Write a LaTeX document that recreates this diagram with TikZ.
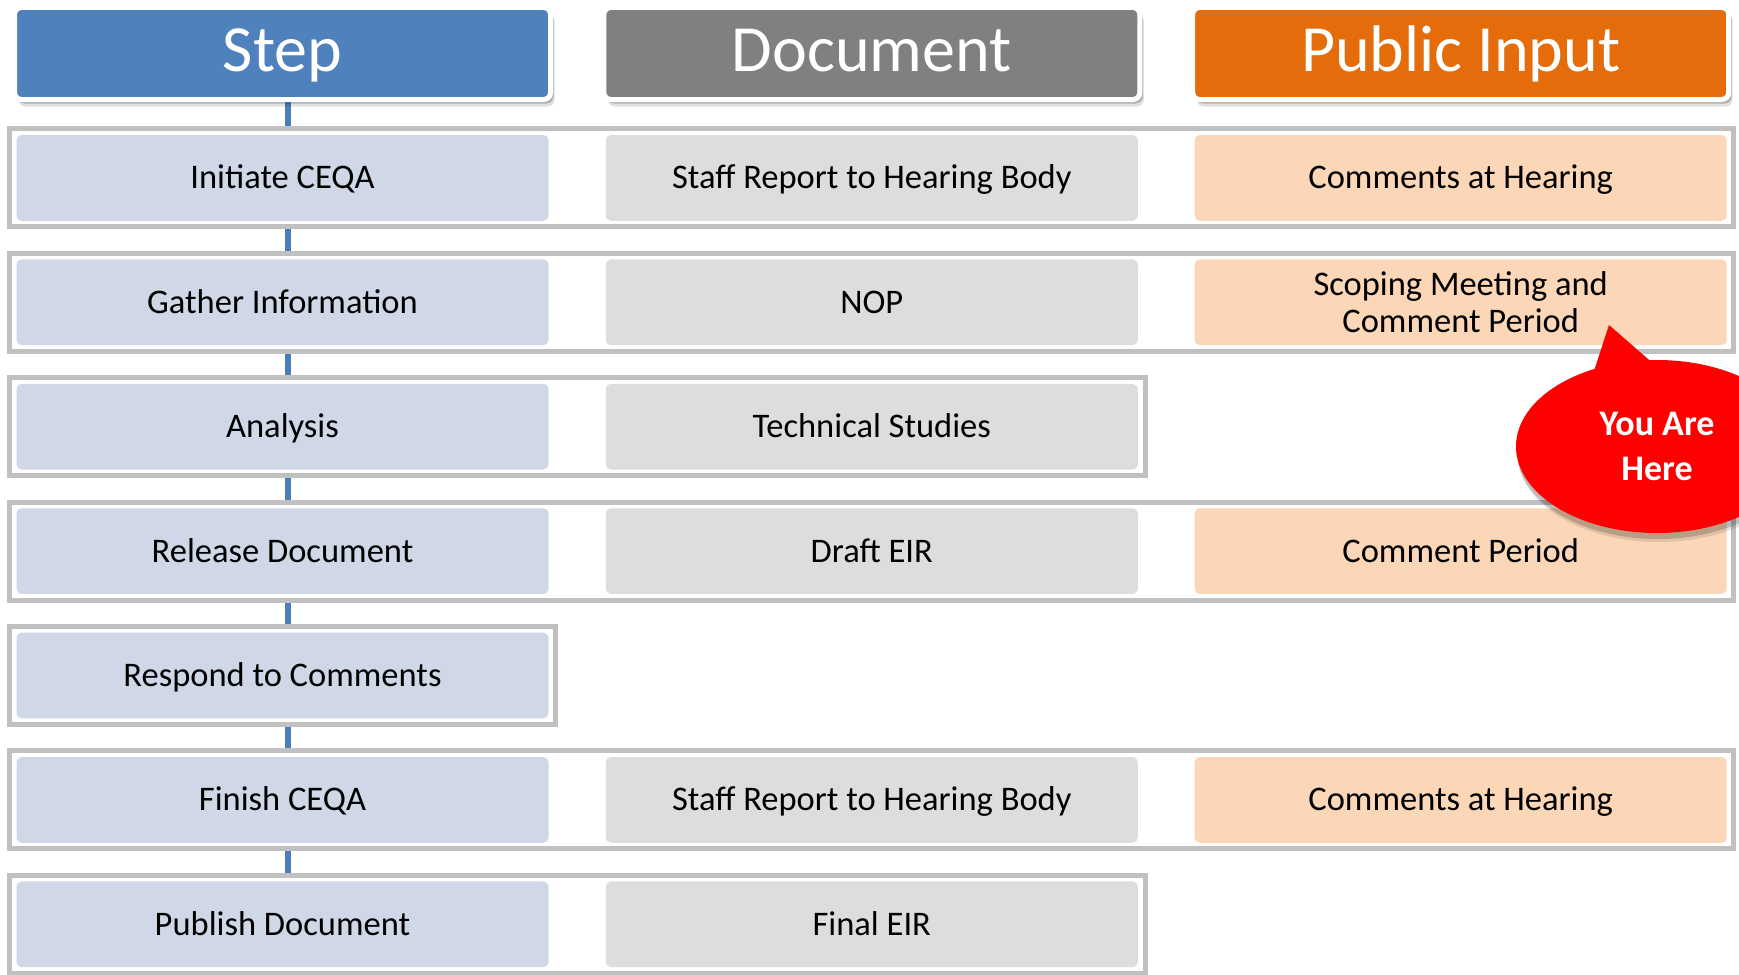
\documentclass[tikz,border=0pt]{standalone}
\usepackage{fontspec}
\setmainfont{Carlito}
\usetikzlibrary{shadows,fit,backgrounds,shapes.geometric}
\definecolor{stepblue}{RGB}{79,129,189}
\definecolor{docgray}{RGB}{128,128,128}
\definecolor{puborange}{RGB}{228,108,10}
\definecolor{stepfill}{RGB}{208,216,232}
\definecolor{docfill}{RGB}{221,221,221}
\definecolor{pubfill}{RGB}{251,215,184}
\definecolor{frameg}{RGB}{192,192,192}
\definecolor{linkblue}{RGB}{74,126,187}
\definecolor{callred}{RGB}{255,0,0}
\begin{document}
\begin{tikzpicture}[x=1pt,y=-1pt,
  header/.style={rounded corners=7pt, draw=white, line width=5pt,
    minimum width=536pt, minimum height=92pt, inner sep=0pt, text=white,
    font=\fontsize{66}{70}\selectfont, text height=42.5pt, text depth=7.5pt,
    drop shadow={shadow xshift=3pt, shadow yshift=-4pt, opacity=.22, fill=black},
    drop shadow={shadow xshift=4pt, shadow yshift=-7pt, opacity=.12, fill=black}},
  boxbase/.style={rounded corners=5pt, minimum width=532pt, minimum height=85.7pt,
    inner sep=0pt, font=\fontsize{34.5}{36.5}\selectfont},
  box/.style={boxbase, text height=22pt, text depth=0pt},
  stepbox/.style={box, fill=stepfill},
  docbox/.style={box, fill=docfill},
  pubbox/.style={box, fill=pubfill},
  frame/.style={draw=frameg, line width=5pt, fill=white, inner xsep=7pt, inner ysep=6pt},
  link/.style={draw=linkblue, line width=5.5pt},
  callshadow/.style={drop shadow={shadow xshift=1pt, shadow yshift=-6pt, opacity=.18, fill=black},
    drop shadow={shadow xshift=2pt, shadow yshift=-9pt, opacity=.10, fill=black}},
  bubble/.style={ellipse, fill=callred, minimum width=282pt, minimum height=173pt,
    inner sep=0pt, text=white, align=center, font=\bfseries\fontsize{36}{45}\selectfont, callshadow}
]
\useasboundingbox (0,0) rectangle (1739,974);

% headers
\node[header, fill=stepblue] (hs) at (282.5,53.5) {Step};
\node[header, fill=docgray] (hd) at (871.8,53.5) {Document};
\node[header, fill=puborange] (hp) at (1460.7,53.5) {Public Input};

% rows
\node[stepbox] (s1) at (282.5,177.9) {Initiate CEQA};
\node[docbox] (d1) at (871.8,177.9) {Staff Report to Hearing Body};
\node[pubbox] (p1) at (1460.7,177.9) {Comments at Hearing};

\node[stepbox] (s2) at (282.5,302.3) {Gather Information};
\node[docbox] (d2) at (871.8,302.3) {NOP};
\node[boxbase, fill=pubfill, align=center] (p2) at (1460.7,302.3) {Scoping Meeting and\\Comment Period};

\node[stepbox] (s3) at (282.5,426.7) {Analysis};
\node[docbox] (d3) at (871.8,426.7) {Technical Studies};

\node[stepbox] (s4) at (282.5,551.1) {Release Document};
\node[docbox] (d4) at (871.8,551.1) {Draft EIR};
\node[pubbox] (p4) at (1460.7,551.1) {Comment Period};

\node[stepbox] (s5) at (282.5,675.5) {Respond to Comments};

\node[stepbox] (s6) at (282.5,799.9) {Finish CEQA};
\node[docbox] (d6) at (871.8,799.9) {Staff Report to Hearing Body};
\node[pubbox] (p6) at (1460.7,799.9) {Comments at Hearing};

\node[stepbox] (s7) at (282.5,924.3) {Publish Document};
\node[docbox] (d7) at (871.8,924.3) {Final EIR};

\begin{pgfonlayer}{background}
  \draw[link] ([xshift=5.5pt]hs.south) -- ([xshift=5.5pt]s7.north);
  \node[frame, fit=(s1)(p1)] (f1) {};
  \node[frame, fit=(s2)(p2)] (f2) {};
  \node[frame, fit=(s3)(d3)] (f3) {};
  \node[frame, fit=(s4)(p4)] (f4) {};
  \node[frame, fit=(s5)] (f5) {};
  \node[frame, fit=(s6)(p6)] (f6) {};
  \node[frame, fit=(s7)(d7)] (f7) {};
\end{pgfonlayer}

% callout
\fill[callred, callshadow] (1609,325) -- (1592,377) -- (1656,366) -- cycle;
\node[bubble] (here) at (1657,446.5) {You Are\\Here};
\end{tikzpicture}
\end{document}
